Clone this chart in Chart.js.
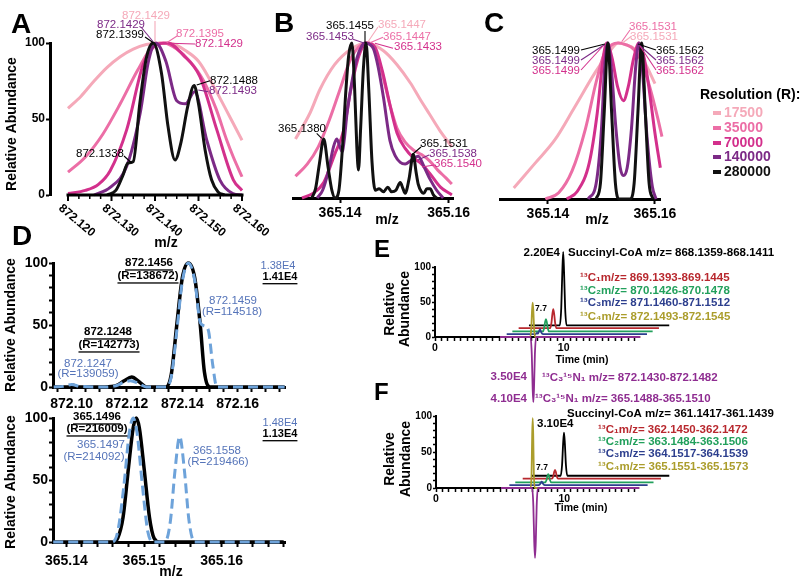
<!DOCTYPE html>
<html><head><meta charset="utf-8">
<script src="https://cdn.jsdelivr.net/npm/chart.js@4.4.1/dist/chart.umd.min.js"></script>
<style>
html,body{margin:0;padding:0;background:#fff;width:800px;height:583px;overflow:hidden;position:relative}
canvas{position:absolute}
</style></head><body>
<script>
const FF = '"Liberation Sans", Arial, Helvetica, sans-serif';
const C17 = '#f5a9b9', C35 = '#ec6ea6', C70 = '#d3308c', C140 = '#7c2a86', C280 = '#111111';
const DB_LINE = '#6ea3da', DB_TXT = '#5574b9';
const ER = '#b8282e', EG = '#22a05c', EB = '#2d3f8e', EY = '#ab9d2c', EP = '#8f2d91';

// ===== DATA =====
const resolutions = ['17500', '35000', '70000', '140000', '280000'];

// Panel A  (m/z, relative abundance)
const A_17500 = [[872.120,57],[872.123,65],[872.126,75],[872.129,84],[872.132,91],[872.135,96],[872.138,99],[872.141,100],[872.144,99.5],[872.147,95],[872.150,88],[872.153,74],[872.156,58],[872.158,47],[872.160,36]];
const A_35000 = [[872.120,15],[872.124,25],[872.128,40],[872.132,60],[872.136,82],[872.1395,98],[872.142,100],[872.145,96],[872.148,88],[872.151,76],[872.154,57],[872.1565,36],[872.158,25],[872.160,12]];
const A_70000 = [[872.120,1],[872.124,3],[872.127,7],[872.1297,16],[872.1335,43],[872.1373,86],[872.1405,99],[872.1429,100],[872.1465,92],[872.1503,78],[872.1542,43],[872.158,10],[872.160,3]];
const A_140000 = [[872.126,0],[872.1297,5],[872.1335,19],[872.1366,54],[872.1385,88],[872.1402,100],[872.1425,88],[872.145,62],[872.147,60],[872.1491,68],[872.1519,36],[872.1549,10],[872.1579,1],[872.160,0]];
const A_280000 = [[872.129,0],[872.131,3],[872.1325,12],[872.1338,21],[872.1350,22],[872.1365,60],[872.1380,90],[872.1396,100],[872.1415,80],[872.143,45],[872.1446,23],[872.146,35],[872.1475,58],[872.1490,72],[872.150,60],[872.1515,30],[872.153,10],[872.1545,2],[872.156,0]];
const A_X_LABELS = [872.120, 872.130, 872.140, 872.150, 872.160];
const A_Y_LABELS = [0, 50, 100];

// Panel B
const B_17500 = [[365.1318,38],[365.1345,55],[365.1363,70],[365.139,86],[365.142,96],[365.145,100],[365.148,95],[365.1505,86],[365.153,74],[365.1547,64],[365.1565,54],[365.1583,44],[365.1606,33]];
const B_35000 = [[365.1318,14],[365.1340,22],[365.1360,33],[365.1380,50],[365.1400,70],[365.1420,90],[365.1440,99],[365.1452,100],[365.1465,95],[365.1478,80],[365.1492,60],[365.1505,45],[365.1520,36],[365.1535,31],[365.1550,28],[365.1565,24],[365.1580,18],[365.1595,13],[365.1606,9]];
const B_70000 = [[365.1330,0],[365.1350,3],[365.1370,10],[365.1390,28],[365.1407,44],[365.1420,70],[365.1435,92],[365.1450,100],[365.1465,97],[365.1478,82],[365.1492,60],[365.1505,42],[365.1520,32],[365.1535,26],[365.1550,22],[365.1565,16],[365.1585,7],[365.1606,2]];
const B_140000 = [[365.1358,0],[365.1368,5],[365.1379,18],[365.1388,33],[365.1394,38],[365.1400,33],[365.1404,30],[365.1408,38],[365.1413,55],[365.1422,75],[365.1431,90],[365.1440,98],[365.1446,100],[365.1455,99],[365.1462,96],[365.1470,85],[365.1480,65],[365.1492,37],[365.1502,27],[365.1511,23],[365.1520,22],[365.1530,24],[365.1544,27],[365.1555,20],[365.1566,12],[365.1578,5],[365.1590,0]];
const B_280000 = [[365.1348,0],[365.1355,6],[365.1362,22],[365.1370,38],[365.1378,20],[365.1385,5],[365.1391,0],[365.1398,5],[365.1405,35],[365.1410,65],[365.1416,92],[365.1422,100],[365.1427,70],[365.1431,33],[365.1434,18],[365.1438,45],[365.1443,83],[365.1448,100],[365.1453,70],[365.1459,23],[365.1465,5],[365.1472,6],[365.1480,4],[365.1488,7],[365.1495,4],[365.1503,5],[365.1511,10],[365.1516,6],[365.1520,3],[365.1527,12],[365.1535,28],[365.1540,17],[365.1544,9],[365.1550,4],[365.1554,3],[365.1560,6],[365.1566,6],[365.1572,2],[365.1578,0]];
const BC_X_LABELS = [365.14, 365.16];

// Panel C
const C_17500 = [[365.1336,7],[365.1376,23],[365.1413,38],[365.145,59],[365.1488,81],[365.1514,94],[365.1531,100],[365.1545,99],[365.1563,96],[365.158,88],[365.160,74]];
const C_35000 = [[365.1395,0],[365.142,4],[365.1445,18],[365.147,45],[365.149,75],[365.1505,93],[365.152,99],[365.1531,100],[365.1545,99],[365.156,96],[365.1575,88],[365.159,72],[365.1605,52],[365.1613,40]];
const C_70000 = [[365.1435,0],[365.1455,5],[365.1477,23],[365.1492,55],[365.1503,90],[365.151,100],[365.152,90],[365.153,72],[365.1541,63],[365.155,72],[365.156,90],[365.157,100],[365.158,90],[365.159,68],[365.160,42],[365.161,20]];
const C_140000 = [[365.1475,0],[365.149,10],[365.150,45],[365.1506,85],[365.1512,100],[365.1518,85],[365.1527,45],[365.1535,20],[365.1541,15],[365.1548,20],[365.1556,45],[365.1564,85],[365.157,100],[365.1576,85],[365.1585,40],[365.1595,8],[365.1602,0]];
const C_280000 = [[365.1490,0],[365.1498,10],[365.1505,55],[365.1512,100],[365.1519,55],[365.1526,10],[365.1533,0],[365.1553,0],[365.1561,10],[365.1568,55],[365.1575,100],[365.1582,55],[365.1589,10],[365.1596,0]];

// Panel D (top: 872 cluster, bottom: 365 cluster) solid = black, dashed = blue
const D1_SOLID = [[872.0935,0],[872.099,0],[872.1005,1.5],[872.102,0],[872.112,0],[872.116,1],[872.119,5],[872.1217,8],[872.1245,4],[872.127,0],[872.134,0],[872.136,10],[872.138,50],[872.140,88],[872.1422,100],[872.1445,88],[872.1465,50],[872.148,12],[872.150,0],[872.177,0]];
const D1_DASH = [[872.0935,0],[872.097,0.5],[872.100,2],[872.103,0.5],[872.112,0],[872.116,1],[872.119,4],[872.1212,5],[872.124,3],[872.127,0],[872.134,0],[872.136,8],[872.138,45],[872.140,85],[872.1422,100],[872.1445,86],[872.1465,52],[872.1483,49],[872.1495,45],[872.151,18],[872.1525,0],[872.177,0]];
const D1_X_LABELS = [872.10, 872.12, 872.14, 872.16];
const D2_SOLID = [[365.1383,0],[365.146,0],[365.1466,3],[365.1473,20],[365.148,60],[365.1486,92],[365.149,100],[365.1494,92],[365.150,60],[365.1507,20],[365.1513,3],[365.152,0],[365.168,0]];
const D2_DASH = [[365.1383,0],[365.1459,0],[365.1466,8],[365.1474,45],[365.1481,88],[365.1486,100],[365.1491,88],[365.1498,45],[365.1505,8],[365.1512,0],[365.1527,0],[365.1534,17],[365.1540,58],[365.1546,85],[365.1552,58],[365.1558,17],[365.1565,0],[365.168,0]];
const D2_X_LABELS = [365.14, 365.15, 365.16];
const D_Y_LABELS = [0, 50, 100];

// Panel E (time in min, relative abundance)
const E_SUCC = [[5.05,0],[7.45,0],[7.56,25],[7.64,75],[7.71,105],[7.78,75],[7.86,25],[7.97,0],[15.95,0]];
const E_C1 = [[5.05,0],[7.50,0],[7.60,8],[7.67,20],[7.74,27],[7.81,20],[7.88,8],[7.98,0],[15.95,0]];
const E_C2 = [[5.05,0],[7.42,0],[7.52,5],[7.59,13],[7.66,17.6],[7.73,13],[7.80,5],[7.90,0],[15.95,0]];
const E_C3 = [[5.05,0],[7.30,0],[7.40,1.5],[7.47,0.5],[7.54,3],[7.64,7],[7.72,3],[7.80,0.5],[7.88,0],[15.95,0]];
const E_C4 = [[5.05,0],[7.40,0],[7.48,12],[7.54,38],[7.59,49],[7.64,38],[7.70,12],[7.78,0],[15.95,0]];
const E_C3N1 = [[5.05,0],[7.42,0],[7.52,-25],[7.59,-75],[7.64,-93],[7.69,-75],[7.76,-25],[7.86,0],[15.95,0]];
// Panel F
const F_SUCC = [[5.07,0],[7.38,0],[7.49,15],[7.57,44],[7.64,60],[7.71,44],[7.79,15],[7.90,0],[15.85,0]];
const F_C1 = [[5.07,0],[7.35,0],[7.45,3],[7.52,9],[7.59,12.4],[7.66,9],[7.73,3],[7.83,0],[15.85,0]];
const F_C2 = [[5.07,0],[7.40,0],[7.50,3],[7.57,8],[7.64,11.6],[7.71,8],[7.78,3],[7.88,0],[15.85,0]];
const F_C3 = [[5.07,0],[7.35,0],[7.45,1],[7.52,3],[7.59,4.6],[7.66,3],[7.73,1],[7.83,0],[15.85,0]];
const F_C4 = [[5.07,0],[7.38,0],[7.45,20],[7.50,75],[7.54,97],[7.58,75],[7.63,20],[7.70,0],[15.85,0]];
const F_C3N1 = [[5.07,0],[7.50,0],[7.59,-25],[7.66,-75],[7.72,-97],[7.78,-75],[7.85,-25],[7.94,0],[15.85,0]];
const EF_X_LABELS = [0, 10];
const EF_Y_LABELS = [0, 50, 100];

// waterfall offsets (layout only: [time shift, abundance shift])
const E_OFF = {succ:[2.25,16.7], c1:[1.45,12.7], c2:[0.96,7.9], c3:[0.52,4.2], c4:[0,0], c3n1:[0,0]};
const F_OFF = {succ:[2.34,17.0], c1:[1.69,12.9], c2:[1.11,7.7], c3:[0.65,4.1], c4:[0,0], c3n1:[0,0]};

// ===== HELPERS =====
function toXY(arr, off) { const dx = off ? off[0] : 0, dy = off ? off[1] : 0; return arr.map(p => ({x: p[0] + dx, y: p[1] + dy})); }
function ds(arr, color, width, extra, off) {
  return Object.assign({data: toXY(arr, off), borderColor: color, backgroundColor: color, borderWidth: width,
    pointRadius: 0, pointHoverRadius: 0, fill: false, cubicInterpolationMode: 'monotone', clip: false,
    borderJoinStyle: 'round', borderCapStyle: 'butt'}, extra || {});
}
function near(v, list) { return list.find(l => Math.abs(l - v) < 1e-7); }
function range(a, b, step) { const out = []; const n = Math.round((b - a) / step); for (let i = 0; i <= n; i++) out.push(+(a + i * step).toFixed(6)); return out; }

function drawItem(ctx, it) {
  if (it.t === 'line') {
    ctx.beginPath(); ctx.strokeStyle = it.c; ctx.lineWidth = it.w || 1.1;
    it.p.forEach((q, i) => i ? ctx.lineTo(q[0], q[1]) : ctx.moveTo(q[0], q[1])); ctx.stroke(); return;
  }
  if (it.t === 'rect') { ctx.fillStyle = it.c; ctx.fillRect(it.x, it.y, it.w, it.h); return; }
  ctx.save();
  ctx.font = (it.b ? 'bold ' : '') + it.fs + 'px ' + FF;
  ctx.fillStyle = it.c || '#000';
  ctx.textAlign = it.a || 'center';
  ctx.textBaseline = it.bl || 'middle';
  ctx.translate(it.x, it.y);
  if (it.rot) ctx.rotate(it.rot);
  ctx.fillText(it.s, 0, 0);
  if (it.u) {
    const w = ctx.measureText(it.s).width;
    const x0 = it.a === 'left' ? 0 : it.a === 'right' ? -w : -w / 2;
    ctx.fillRect(x0, it.fs * 0.55, w, 1.3);
  }
  ctx.restore();
}

function makePanel(P) {
  const cv = document.createElement('canvas');
  cv.width = P.w; cv.height = P.h;
  cv.style.left = P.left + 'px'; cv.style.top = P.top + 'px';
  cv.style.width = P.w + 'px'; cv.style.height = P.h + 'px';
  document.body.appendChild(cv);
  const A = P.area, X = P.x, Y = P.y;
  const xH = P.top + P.h - A.b, yW = A.l - P.left;
  const scales = {
    x: {
      type: 'linear', position: 'bottom', min: X.min, max: X.max, display: !X.hide,
      afterFit(s) { if (!X.hide) s.height = xH; },
      afterBuildTicks(s) { if (X.ticks) s.ticks = X.ticks.map(v => ({value: v})); },
      border: {display: true, color: '#000', width: X.bw || 3},
      grid: {display: true, drawOnChartArea: false, drawTicks: true, tickLength: X.tl || 5, tickWidth: X.tw || 2, tickColor: '#000'},
      ticks: {autoSkip: false, maxRotation: 0, minRotation: 0, padding: X.pad || 2, color: '#000',
        font: {family: FF, size: X.fs || 14, weight: 'bold'},
        callback: (v) => { const l = near(v, X.labels || []); return l === undefined ? '' : X.fmt(l); }}
    },
    y: {
      type: 'linear', position: 'left', min: Y.min, max: Y.max, display: !Y.hide,
      afterFit(s) { if (!Y.hide) s.width = yW; },
      afterBuildTicks(s) { if (Y.ticks) s.ticks = Y.ticks.map(v => ({value: v})); },
      border: {display: true, color: '#000', width: Y.bw || 3},
      grid: {display: true, drawOnChartArea: false, drawTicks: true, tickLength: Y.tl || 4, tickWidth: Y.tw || 2, tickColor: '#000'},
      ticks: {autoSkip: false, padding: Y.pad || 1, color: '#000',
        font: {family: FF, size: Y.fs || 12, weight: 'bold'},
        callback: (v) => { const l = near(v, Y.labels || []); return l === undefined ? '' : String(l); }}
    }
  };
  const plugin = {
    id: 'overlay',
    afterDraw(chart) {
      const ctx = chart.ctx;
      if (P.after) { ctx.save(); P.after(chart, ctx); ctx.restore(); }
      ctx.save(); ctx.translate(-P.left, -P.top);
      (P.items || []).forEach(it => drawItem(ctx, it));
      ctx.restore();
    }
  };
  new Chart(cv, {
    type: 'line',
    data: {datasets: P.datasets},
    options: {
      responsive: false, animation: false, events: [],
      layout: {autoPadding: false, padding: {left: Y.hide ? yW : 0, top: A.t - P.top, right: P.left + P.w - A.r, bottom: X.hide ? xH : 0}},
      plugins: {legend: {display: false}, tooltip: {enabled: false}, title: {display: false}},
      scales
    },
    plugins: [plugin]
  });
}

const T = (s, x, y, fs, c, o) => Object.assign({s, x, y, fs, c}, o || {});
const L = (p, c, w) => ({t: 'line', p, c, w});
const ROT = -Math.PI / 2;

// ===== PANEL A =====
makePanel({
  left: 0, top: 0, w: 285, h: 252, area: {l: 50, t: 43, r: 242, b: 195},
  x: {min: 872.115862, max: 872.16, hide: true},
  y: {min: 0, max: 100, ticks: A_Y_LABELS, labels: A_Y_LABELS, fs: 12, tl: 4, pad: 1},
  datasets: [ds(A_280000, C280, 3), ds(A_140000, C140, 3), ds(A_70000, C70, 3), ds(A_35000, C35, 3), ds(A_17500, C17, 3)],
  after(chart, ctx) {
    const xs = chart.scales.x, ys = chart.scales.y, y0 = ys.getPixelForValue(0);
    const a = xs.getPixelForValue(A_X_LABELS[0]), b = xs.getPixelForValue(A_X_LABELS[A_X_LABELS.length - 1]);
    ctx.strokeStyle = '#000'; ctx.lineWidth = 3;
    ctx.beginPath(); ctx.moveTo(a - 1.5, y0); ctx.lineTo(b + 1.5, y0); ctx.stroke();
    range(872.12, 872.16, 0.0025).forEach((v, i) => {
      const px = xs.getPixelForValue(v), major = i % 4 === 0;
      ctx.lineWidth = major ? 2 : 1.5; ctx.beginPath(); ctx.moveTo(px, y0); ctx.lineTo(px, y0 + (major ? 6 : 4)); ctx.stroke();
    });
    ctx.font = 'bold 12px ' + FF; ctx.fillStyle = '#000'; ctx.textAlign = 'left'; ctx.textBaseline = 'top';
    A_X_LABELS.forEach(v => {
      const px = xs.getPixelForValue(v);
      ctx.save(); ctx.translate(px - 4, y0 + 7); ctx.rotate(40 * Math.PI / 180); ctx.fillText(v.toFixed(3), 0, 0); ctx.restore();
    });
  },
  items: [
    T('A', 11, 33, 28, '#000', {b: true, a: 'left', bl: 'alphabetic'}),
    T('Relative Abundance', 12, 124, 14, '#000', {b: true, rot: ROT}),
    T('m/z', 166, 243, 14, '#000', {b: true}),
    T('872.1429', 146, 16, 11.5, C17), L([[155, 21], [155, 42]], C17),
    T('872.1429', 121, 25, 11.5, C140), L([[141, 27], [153, 41.5]], C140),
    T('872.1399', 120, 35, 11.5, '#000'), L([[145, 37], [153, 42.5]], '#000'),
    T('872.1395', 200, 34, 11.5, C35), L([[177, 36], [166.7, 42.7]], C35),
    T('872.1429', 219, 44, 11.5, C70), L([[195, 44], [170, 43.3]], C70),
    T('872.1488', 234, 81, 11.5, '#000'), L([[210, 80.7], [196.7, 85]], '#000'),
    T('872.1493', 233, 91, 11.5, C140), L([[208.3, 91.7], [198.3, 90]], C140),
    T('872.1338', 100, 154, 11.5, '#000'), L([[124, 156], [131.7, 163]], '#000')
  ]
});

// ===== PANEL B =====
makePanel({
  left: 262, top: 0, w: 230, h: 250, area: {l: 293, t: 43, r: 453, b: 198},
  x: {min: 365.131344, max: 365.16081, ticks: BC_X_LABELS, labels: BC_X_LABELS, fmt: v => v.toFixed(2), fs: 14, tl: 5, pad: 2},
  y: {min: 0, max: 100, hide: true},
  datasets: [ds(B_280000, C280, 3), ds(B_140000, C140, 3), ds(B_70000, C70, 3), ds(B_35000, C35, 3), ds(B_17500, C17, 3)],
  items: [
    T('B', 274, 32, 28, '#000', {b: true, a: 'left', bl: 'alphabetic'}),
    T('m/z', 387, 220, 14, '#000', {b: true}),
    T('365.1455', 350, 26, 11.5, '#000'), L([[365, 31], [365, 43]], '#000'),
    T('365.1447', 402, 25, 11.5, C17), L([[378, 27], [368, 41.7]], C17),
    T('365.1453', 330, 37, 11.5, C140), L([[353, 39.3], [364, 43]], C140),
    T('365.1447', 407, 37, 11.5, C35), L([[383, 37.3], [370, 42.7]], C35),
    T('365.1433', 418, 47, 11.5, C70), L([[393, 48.3], [375, 43.3]], C70),
    T('365.1380', 302, 129, 11.5, '#000'), L([[316.7, 133.3], [321.7, 138.3]], '#000'),
    T('365.1531', 444, 144, 11.5, '#000'), L([[421, 147], [411.7, 155]], '#000'),
    T('365.1538', 453, 154, 11.5, C140), L([[429, 155], [418, 160]], C140),
    T('365.1540', 458, 164, 11.5, C70), L([[434, 165], [422, 167]], C70)
  ]
});

// ===== PANEL C + legend =====
const legendItems = [T('Resolution (R):', 700, 95, 14, '#000', {b: true, a: 'left'})];
[C17, C35, C70, C140, C280].forEach((c, i) => {
  const y = [113, 128, 143, 157, 172][i];
  legendItems.push({t: 'rect', x: 713, y: y - 2, w: 8, h: 4, c});
  legendItems.push(T(resolutions[i], 724, y, 14, c, {b: true, a: 'left'}));
});
makePanel({
  left: 470, top: 0, w: 330, h: 250, area: {l: 500, t: 43, r: 660, b: 199},
  x: {min: 365.131028, max: 365.160935, ticks: BC_X_LABELS, labels: BC_X_LABELS, fmt: v => v.toFixed(2), fs: 14, tl: 5, pad: 2},
  y: {min: 0, max: 100, hide: true},
  datasets: [ds(C_280000, C280, 3), ds(C_140000, C140, 3), ds(C_70000, C70, 3), ds(C_35000, C35, 3), ds(C_17500, C17, 3)],
  items: [
    T('C', 484, 32, 28, '#000', {b: true, a: 'left', bl: 'alphabetic'}),
    T('m/z', 597, 220, 14, '#000', {b: true}),
    T('365.1531', 653, 27, 11.5, C35), L([[630, 30], [621.7, 41.7]], C35),
    T('365.1531', 654, 37, 11.5, C17), L([[631.7, 36], [622.7, 42.7]], C17),
    T('365.1499', 556, 51, 11.5, '#000'), L([[581, 50], [605, 44]], '#000'),
    T('365.1499', 556, 61, 11.5, C140), L([[581, 60], [604, 45]], C140),
    T('365.1499', 556, 71, 11.5, C70), L([[581, 70], [603, 46]], C70),
    T('365.1562', 680, 51, 11.5, '#000'), L([[656, 50], [638, 44]], '#000'),
    T('365.1562', 680, 61, 11.5, C140), L([[656, 60], [639, 45]], C140),
    T('365.1562', 680, 71, 11.5, C70), L([[656, 70], [640, 46]], C70)
  ].concat(legendItems)
});

// ===== PANEL D (top) =====
const dashStyle = {borderDash: [10, 5]};
makePanel({
  left: 0, top: 215, w: 300, h: 200, area: {l: 53, t: 263, r: 285, b: 387},
  x: {min: 872.093237, max: 872.177143, ticks: range(872.095, 872.175, 0.005), labels: D1_X_LABELS, fmt: v => v.toFixed(2), fs: 14, tl: 5, pad: 4},
  y: {min: 0, max: 100, ticks: range(0, 100, 10), labels: D_Y_LABELS, fs: 14, tl: 4, pad: 1},
  datasets: [ds(D1_DASH, DB_LINE, 3, dashStyle), ds(D1_SOLID, '#000', 3.5)],
  items: [
    T('D', 12, 245, 28, '#000', {b: true, a: 'left', bl: 'alphabetic'}),
    T('Relative Abundance', 11, 325, 14, '#000', {b: true, rot: ROT}),
    T('872.1456', 149, 263, 11.5, '#000', {b: true, u: true}),
    T('(R=138672)', 148, 276, 11.5, '#000', {b: true, u: true}),
    T('1.38E4', 278, 266, 11, DB_TXT),
    T('1.41E4', 280, 277, 11, '#000', {b: true, u: true}),
    T('872.1459', 233, 301, 11.5, DB_TXT),
    T('(R=114518)', 232, 312, 11.5, DB_TXT),
    T('872.1248', 108, 332, 11.5, '#000', {b: true, u: true}),
    T('(R=142773)', 109, 345, 11.5, '#000', {b: true, u: true}),
    T('872.1247', 88, 364, 11.5, DB_TXT),
    T('(R=139059)', 88, 374, 11.5, DB_TXT)
  ]
});

// ===== PANEL D (bottom) =====
makePanel({
  left: 0, top: 405, w: 300, h: 178, area: {l: 53, t: 418, r: 285, b: 542},
  x: {min: 365.138271, max: 365.168168, ticks: range(365.14, 365.168, 0.002), labels: D2_X_LABELS, fmt: v => v.toFixed(2), fs: 14, tl: 5, pad: 6},
  y: {min: 0, max: 100, ticks: range(0, 100, 10), labels: D_Y_LABELS, fs: 14, tl: 4, pad: 1},
  datasets: [ds(D2_DASH, DB_LINE, 3, dashStyle), ds(D2_SOLID, '#000', 3.5)],
  items: [
    T('Relative Abundance', 11, 482, 14, '#000', {b: true, rot: ROT}),
    T('m/z', 171, 572, 14, '#000', {b: true}),
    T('365.1496', 97, 417, 11.5, '#000', {b: true, u: true}),
    T('(R=216009)', 97, 429, 11.5, '#000', {b: true, u: true}),
    T('365.1497', 101, 445, 11.5, DB_TXT),
    T('(R=214092)', 94, 457, 11.5, DB_TXT),
    T('365.1558', 217, 451, 11.5, DB_TXT),
    T('(R=219466)', 218, 462, 11.5, DB_TXT),
    T('1.48E4', 280, 423, 11, DB_TXT),
    T('1.13E4', 280, 434, 11, '#000', {b: true, u: true})
  ]
});

// ===== PANEL E =====
makePanel({
  left: 360, top: 230, w: 440, h: 180, area: {l: 435, t: 267, r: 639, b: 337},
  x: {min: 0, max: 15.85, ticks: range(0, 15.5, 0.5), labels: EF_X_LABELS, fmt: v => String(v), fs: 10.5, tl: 4, tw: 1.5, bw: 2, pad: 1},
  y: {min: 0, max: 100, ticks: range(0, 100, 10), labels: EF_Y_LABELS, fs: 10, tl: 3, tw: 1.5, bw: 2, pad: 1},
  datasets: [
    ds(E_C3N1, EP, 1.8, null, E_OFF.c3n1), ds(E_C4, EY, 1.8, null, E_OFF.c4), ds(E_C3, EB, 1.8, null, E_OFF.c3),
    ds(E_C2, EG, 1.8, null, E_OFF.c2), ds(E_C1, ER, 1.8, null, E_OFF.c1), ds(E_SUCC, '#000', 1.8, null, E_OFF.succ)
  ],
  items: [
    T('E', 374, 257, 24, '#000', {b: true, a: 'left', bl: 'alphabetic'}),
    T('Relative', 390, 309, 14, '#000', {b: true, rot: ROT}),
    T('Abundance', 405, 309, 14, '#000', {b: true, rot: ROT}),
    T('Time (min)', 582, 360, 10.5, '#000', {b: true}),
    T('2.20E4', 560, 253, 11.5, '#000', {b: true, a: 'right'}),
    T('Succinyl-CoA m/z= 868.1359-868.1411', 568, 253, 11.5, '#000', {b: true, a: 'left'}),
    T('¹³C₁m/z= 869.1393-869.1445', 580, 278, 11.5, ER, {b: true, a: 'left'}),
    T('¹³C₂m/z= 870.1426-870.1478', 580, 291, 11.5, EG, {b: true, a: 'left'}),
    T('¹³C₃m/z= 871.1460-871.1512', 580, 303, 11.5, EB, {b: true, a: 'left'}),
    T('¹³C₄m/z= 872.1493-872.1545', 580, 317, 11.5, EY, {b: true, a: 'left'}),
    T('7.7', 541, 309, 8.5, '#000', {b: true}),
    T('3.50E4', 527, 377, 11.5, EP, {b: true, a: 'right'}),
    T('¹³C₃¹⁵N₁ m/z= 872.1430-872.1482', 542, 378, 11.5, EP, {b: true, a: 'left'})
  ]
});

// ===== PANEL F =====
makePanel({
  left: 360, top: 372, w: 440, h: 211, area: {l: 436, t: 416, r: 638, b: 488},
  x: {min: 0, max: 15.75, ticks: range(0, 15.5, 0.5), labels: EF_X_LABELS, fmt: v => String(v), fs: 10.5, tl: 4, tw: 1.5, bw: 2, pad: 1},
  y: {min: 0, max: 100, ticks: range(0, 100, 10), labels: EF_Y_LABELS, fs: 10, tl: 3, tw: 1.5, bw: 2, pad: 1},
  datasets: [
    ds(F_C3N1, EP, 1.8, null, F_OFF.c3n1), ds(F_C4, EY, 1.8, null, F_OFF.c4), ds(F_C3, EB, 1.8, null, F_OFF.c3),
    ds(F_C2, EG, 1.8, null, F_OFF.c2), ds(F_C1, ER, 1.8, null, F_OFF.c1), ds(F_SUCC, '#000', 1.8, null, F_OFF.succ)
  ],
  items: [
    T('F', 374, 400, 24, '#000', {b: true, a: 'left', bl: 'alphabetic'}),
    T('Relative', 390, 459, 14, '#000', {b: true, rot: ROT}),
    T('Abundance', 406, 459, 14, '#000', {b: true, rot: ROT}),
    T('Time (min)', 581, 508, 10.5, '#000', {b: true}),
    T('Succinyl-CoA m/z= 361.1417-361.1439', 567, 414, 11.5, '#000', {b: true, a: 'left'}),
    T('3.10E4', 537, 424, 11.5, '#000', {b: true, a: 'left'}),
    T('¹³C₁m/z= 362.1450-362.1472', 598, 430, 11.5, ER, {b: true, a: 'left'}),
    T('¹³C₂m/z= 363.1484-363.1506', 598, 442, 11.5, EG, {b: true, a: 'left'}),
    T('¹³C₃m/z= 364.1517-364.1539', 598, 454, 11.5, EB, {b: true, a: 'left'}),
    T('¹³C₄m/z= 365.1551-365.1573', 598, 467, 11.5, EY, {b: true, a: 'left'}),
    T('7.7', 542, 468, 8.5, '#000', {b: true}),
    T('4.10E4', 527, 399, 11.5, EP, {b: true, a: 'right'}),
    T('¹³C₃¹⁵N₁ m/z= 365.1488-365.1510', 535, 399, 11.5, EP, {b: true, a: 'left'})
  ]
});
</script>
</body></html>
